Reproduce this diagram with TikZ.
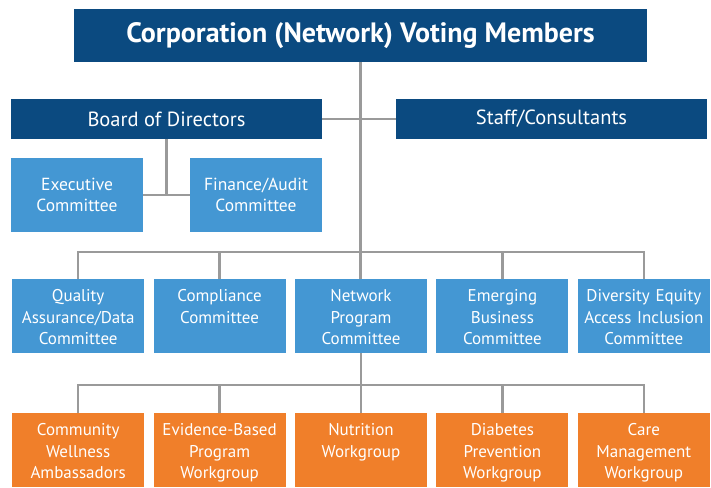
\documentclass[tikz,border=0pt]{standalone}
\usepackage{fontspec}
\setmainfont{PT Sans}
\usetikzlibrary{positioning}
\definecolor{navy}{HTML}{0B4A80}
\definecolor{skyblue}{HTML}{4497D3}
\definecolor{tangerine}{HTML}{F07F2A}
\definecolor{wiregray}{HTML}{9A9A9A}

\begin{document}
\begin{tikzpicture}[x=1pt,y=-1pt,node distance=9pt]
  \tikzstyle{every node}=[text=white,inner sep=0pt,font=\fontsize{17.5}{21.5}\selectfont]
  \tikzstyle{head}=[fill=navy,minimum width=311pt,minimum height=40pt,
                    font=\fontsize{20.5}{24}\selectfont]
  \tikzstyle{cmte}=[fill=skyblue,minimum width=132pt,minimum height=74pt,align=center]
  \tikzstyle{row}=[cmte,anchor=north west,text width=128pt,inner xsep=2pt,inner ysep=9pt,
                   text height=13.5pt,text depth=42.5pt,font=\fontsize{17}{21.5}\selectfont]
  \tikzstyle{work}=[row,fill=tangerine]
  \tikzstyle{wire}=[draw=wiregray,line width=2.5pt]

  \useasboundingbox (0,0) rectangle (711,487);

  \node[head,minimum width=573pt,minimum height=53pt,
        font=\fontsize{28}{32}\selectfont\bfseries] (corp) at (360.5,35.5)
        {Corporation (Network) Voting Members};
  \node[head] (board) at (166.5,119) {Board of Directors};
  \node[head] (staff) at (551.5,119) {Staff/Consultants};
  \node[cmte] (exec)    at (77,195)  {Executive\\Committee};
  \node[cmte] (finance) at (256,195) {Finance/Audit\\Committee};

  \node[row] (quality) at (12,279)     {Quality\\Assurance/Data\\Committee};
  \node[row,right=of quality] (compliance) {Compliance\\Committee};
  \node[row,right=of compliance] (network) {Network\\Program\\Committee};
  \node[row,right=of network] (emerging)   {Emerging\\Business\\Committee};
  \node[row,right=of emerging] (deai)      {Diversity Equity\\Access Inclusion\\Committee};

  \node[work] (ambassadors) at (12,413)      {Community\\Wellness\\Ambassadors};
  \node[work,right=of ambassadors] (evidence) {Evidence-Based\\Program\\Workgroup};
  \node[work,right=of evidence] (nutrition)   {Nutrition\\Workgroup};
  \node[work,right=of nutrition] (diabetes)   {Diabetes\\Prevention\\Workgroup};
  \node[work,right=of diabetes] (care)        {Care\\Management\\Workgroup};

  \coordinate (bus1) at (360,252);
  \coordinate (bus2) at (360,385);

  \draw[wire] (corp.south) -- (corp.south |- network.north);
  \draw[wire] (board) -- (staff);
  \draw[wire] (board.south) -- (board.south |- exec.east);
  \draw[wire] (exec) -- (finance);

  \draw[wire] (quality.north) -- (quality.north |- bus1) -- (deai.north |- bus1) -- (deai.north);
  \foreach \n in {compliance,emerging}
    \draw[wire] (\n.north) -- (\n.north |- bus1);

  \draw[wire] (network.south) -- (network.south |- nutrition.north);
  \draw[wire] (ambassadors.north) -- (ambassadors.north |- bus2) -- (care.north |- bus2) -- (care.north);
  \foreach \n in {evidence,diabetes}
    \draw[wire] (\n.north) -- (\n.north |- bus2);
\end{tikzpicture}
\end{document}
